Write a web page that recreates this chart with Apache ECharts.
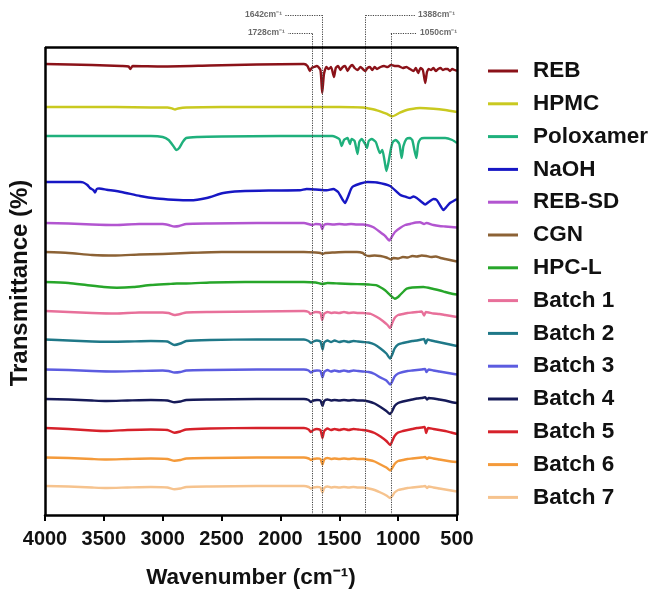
<!DOCTYPE html>
<html>
<head>
<meta charset="utf-8">
<script src="https://cdn.jsdelivr.net/npm/echarts@6/dist/echarts.min.js"></script>
<style>
html,body{margin:0;padding:0;background:#fff;}
#chart{width:653px;height:590px;}
</style>
</head>
<body>
<div id="chart"></div>
<script>
// ---- data: [wavenumber (cm-1), relative transmittance shift] ----
const seriesNames = ['REB','HPMC','Poloxamer','NaOH','REB-SD','CGN','HPC-L','Batch 1','Batch 2','Batch 3','Batch 4','Batch 5','Batch 6','Batch 7'];
const seriesOffsets = [451, 408, 379, 333, 292, 263, 233, 204, 175.5, 145.5, 116, 87, 57.5, 29];
const seriesColors = ['#8b1219','#c9c920','#1fb07c','#1717c4','#b255d0','#8c6235','#27a62a','#e8709a','#1f7888','#5c5ce0','#161a58','#d6212a','#f49a3a','#f6c38e'];

const REB = [[4000,0],[3600,-1],[3350,-2],[3290,-2.5],[3275,-5],[3255,-2],[3000,-2.5],[2600,-1.5],[2200,-0.5],[1800,0],[1770,-2],[1750,-7],[1735,-4],[1715,-3],[1690,-2],[1660,-6],[1645,-29],[1630,-10],[1610,-3],[1590,-5],[1570,-3],[1545,-13],[1530,-4],[1510,-2],[1490,-6],[1470,-3],[1450,-2],[1430,-7],[1410,-3],[1390,-1],[1370,-4],[1345,-6],[1320,-3],[1300,-5],[1280,-7],[1260,-4],[1240,-3],[1220,-6],[1200,-3],[1180,-5],[1150,-3],[1120,-2],[1090,-3],[1060,-1],[1030,-2],[1000,-2],[960,-4],[930,-3],[900,-5],[870,-7],[850,-4],[830,-9],[810,-4],[790,-6],[770,-19],[755,-8],[740,-5],[720,-6],[700,-4],[680,-7],[660,-5],[640,-4],[620,-6],[600,-5],[580,-5],[560,-7],[540,-5],[520,-6],[500,-7]];
const HPMC = [[4000,0],[3700,0],[3400,0],[3100,-0.5],[2960,-0.5],[2920,-1.5],[2895,-2.5],[2870,-1.5],[2800,-0.5],[2500,0],[2000,0],[1750,0],[1500,0],[1300,-0.5],[1250,-1.5],[1180,-3.3],[1100,-6.7],[1050,-9.3],[1020,-8],[985,-5.7],[940,-3.5],[900,-2.3],[815,-1],[700,-1.7],[600,-3],[500,-5]];
const Poloxamer = [[4000,0],[3500,0],[3100,0],[3000,-1],[2950,-4],[2910,-10],[2885,-14],[2860,-12],[2830,-6],[2800,-2],[2700,-1],[2500,-0.5],[2000,0],[1700,0],[1560,0],[1500,-3],[1480,-10],[1460,-4],[1430,-2],[1410,-8],[1395,-3],[1370,-5],[1345,-18],[1330,-6],[1310,-3],[1280,-8],[1265,-12],[1250,-5],[1225,-3],[1190,-6],[1155,-17],[1135,-14],[1115,-25],[1100,-35],[1085,-28],[1060,-12],[1045,-6],[1020,-4],[990,-8],[970,-22],[955,-10],[930,-3],[900,-2],[880,-4],[860,-15],[845,-22],[830,-8],[810,-3],[780,-2],[700,-2],[600,-2],[540,-4],[500,-7]];
const NaOH = [[4000,0],[3800,0],[3700,0],[3674,-0.5],[3640,-3],[3618,-6],[3590,-8],[3575,-10.5],[3560,-7],[3540,-6.5],[3476,-7.7],[3350,-10],[3193,-14],[3050,-16.5],[2910,-17.7],[2768,-18.3],[2626,-16],[2485,-11],[2343,-9.3],[2100,-8.5],[1834,-8.3],[1777,-7],[1700,-7.5],[1607,-8.3],[1551,-7],[1510,-10],[1470,-18],[1451,-21],[1430,-16],[1400,-7],[1381,-4.3],[1320,-1.5],[1260,0],[1180,-0.5],[1069,-4],[984,-12.7],[930,-15],[899,-16],[870,-14.5],[842,-16],[800,-20],[770,-22.5],[740,-20],[700,-17],[672,-18],[640,-24],[616,-28],[590,-25],[560,-21],[530,-19],[500,-17]];
const REB_SD = [[4000,0],[3800,-0.5],[3600,-1.5],[3400,-2],[3200,-1],[3000,-1],[2950,-2],[2900,-3.5],[2860,-3],[2800,-1],[2600,-0.5],[2200,0],[1800,0],[1750,-1.5],[1728,-2],[1700,-1],[1660,-1.5],[1645,-6],[1630,-2],[1600,-1],[1550,-1.5],[1500,-1],[1450,-1.5],[1400,-1],[1350,-1.5],[1300,-1.5],[1250,-2.5],[1210,-4.3],[1154,-9],[1110,-13],[1075,-17.5],[1050,-13],[1027,-9],[984,-5],[940,-2],[899,-1],[850,0.5],[814,0.7],[780,-1],[760,0],[700,-2],[650,-3],[600,-3.5],[550,-4],[500,-4.5]];
const CGN = [[4000,0],[3800,-1],[3600,-3],[3400,-3.5],[3200,-2.5],[3000,-2],[2900,-1.5],[2800,-1],[2500,0],[2000,0],[1800,0],[1700,-0.5],[1660,-1],[1642,-2],[1620,-1],[1550,-0.5],[1450,0],[1350,0],[1300,-1],[1280,-3],[1250,-4],[1200,-3.5],[1150,-4],[1100,-5.5],[1060,-7.5],[1040,-6],[1000,-6.5],[960,-5],[920,-5.5],[880,-4],[840,-4.5],[800,-3.5],[760,-4],[720,-5],[680,-4.5],[640,-6],[600,-7],[560,-8],[500,-9.5]];
const HPC_L = [[4000,0],[3800,-1],[3650,-3],[3500,-5],[3390,-5.7],[3250,-5],[3100,-3],[2950,-2],[2880,-1.5],[2800,-1.5],[2600,-0.5],[2300,0],[1800,0],[1700,-0.5],[1645,-2],[1600,-1],[1500,-1.5],[1400,-2],[1295,-2.3],[1250,-2.5],[1182,-3.3],[1111,-8.3],[1060,-14],[1027,-16.7],[1000,-15],[984,-13],[950,-9],[927,-6.7],[880,-5.5],[786,-5],[700,-7],[644,-8.5],[600,-10],[550,-11.5],[500,-12.5]];
const Batch1 = [[4000,0],[3800,-1],[3600,-2],[3400,-2.5],[3200,-1.5],[3000,-1.5],[2950,-2],[2900,-4],[2850,-3],[2800,-1.5],[2600,-1],[2200,-0.5],[1800,0],[1760,-1],[1745,-3],[1730,-2],[1700,-1],[1660,-2],[1645,-9],[1630,-3],[1600,-1],[1570,-2],[1540,-1.5],[1500,-2],[1460,-1],[1420,-2],[1380,-1.5],[1340,-2],[1300,-2],[1260,-2.5],[1230,-3],[1180,-6],[1130,-10],[1090,-14],[1068,-17],[1050,-12],[1030,-7],[1000,-4],[960,-3],[920,-2],[880,-1.5],[840,-1],[800,-0.5],[780,-4.5],[765,-1],[740,-1.5],[700,-2.5],[650,-3],[600,-4],[550,-5],[500,-6]];
const Batch2 = [[4000,0],[3800,-1],[3600,-2],[3476,-2.3],[3300,-2],[3100,-1.5],[2960,-2],[2900,-5.5],[2850,-4],[2800,-1.5],[2600,-0.5],[2200,0],[1800,0],[1760,-1.5],[1740,-3.5],[1720,-2],[1690,-1],[1660,-2],[1642,-10],[1628,-3],[1600,-1],[1570,-2.5],[1540,-1],[1500,-2.5],[1460,-1.5],[1420,-2.5],[1380,-1.5],[1340,-2],[1300,-2.5],[1250,-3],[1200,-5],[1150,-9],[1100,-14],[1068,-19],[1050,-15],[1030,-9],[1000,-5],[960,-3.5],[920,-2.5],[880,-1.5],[840,-1],[800,0],[780,0.5],[765,-4],[750,0],[720,-1],[680,-2],[620,-3.5],[560,-5],[500,-6.5]];
const Batch3 = [[4000,0],[3800,-0.5],[3600,-1.5],[3400,-2],[3200,-1.5],[3000,-1],[2950,-1.5],[2900,-3],[2850,-2.5],[2800,-1],[2600,-0.5],[2200,0],[1800,0],[1760,-1],[1742,-3],[1720,-1.5],[1690,-1],[1660,-1.5],[1643,-8],[1628,-2.5],[1600,-0.5],[1570,-2],[1540,-1],[1500,-2],[1460,-1],[1420,-2],[1380,-1],[1340,-1.5],[1300,-2],[1250,-2.5],[1200,-4.5],[1150,-8],[1100,-11],[1068,-15],[1050,-12],[1030,-7],[1000,-4],[960,-2.5],[920,-1.5],[880,-1],[840,-0.5],[800,0],[770,0.5],[760,-2.5],[740,0],[700,-1],[650,-2],[600,-3],[550,-4],[500,-5]];
const Batch4 = [[4000,0],[3800,-0.5],[3600,-1.5],[3476,-2],[3300,-1.5],[3100,-1],[2960,-1.5],[2900,-3.3],[2850,-2.5],[2800,-1],[2600,-0.5],[2200,0],[1800,0],[1760,-1],[1742,-3],[1720,-1.5],[1690,-1],[1660,-1.5],[1643,-7],[1628,-2],[1600,-0.5],[1570,-1.5],[1540,-1],[1500,-1.5],[1460,-1],[1420,-1.5],[1380,-1],[1340,-1.5],[1300,-1.5],[1250,-2.5],[1200,-4.5],[1150,-8],[1100,-12],[1068,-15],[1050,-12],[1030,-7],[1000,-4],[960,-2.5],[920,-1.5],[880,-0.5],[840,0.5],[800,1],[770,1.7],[755,-0.5],[740,1],[700,0.5],[650,-0.5],[600,-1.5],[550,-3],[500,-4]];
const Batch5 = [[4000,0],[3800,-1],[3600,-2.5],[3476,-3],[3300,-2],[3100,-1.5],[2960,-2],[2900,-4.7],[2850,-3.5],[2800,-1.5],[2600,-0.5],[2200,0],[1800,0],[1760,-1.5],[1742,-4],[1720,-2],[1690,-1],[1660,-2],[1643,-10],[1628,-3],[1600,-0.5],[1570,-2],[1540,-1],[1500,-2],[1460,-1],[1420,-2],[1380,-1],[1340,-1.5],[1300,-2],[1250,-3],[1200,-5],[1150,-8.5],[1100,-13],[1068,-17],[1050,-13],[1030,-8],[1000,-4.5],[960,-3],[920,-2],[880,-1],[840,0],[800,0.5],[775,1],[762,-5],[745,0],[700,-1],[650,-2],[600,-3],[550,-4.5],[500,-6]];
const Batch6 = [[4000,0],[3800,-0.5],[3600,-1.5],[3476,-2],[3300,-1.5],[3100,-1],[2960,-1.5],[2900,-3.3],[2850,-2.5],[2800,-1],[2600,-0.5],[2200,0],[1800,0],[1760,-1],[1742,-2.5],[1720,-1.5],[1690,-1],[1660,-1.5],[1643,-7],[1628,-2],[1600,-0.5],[1570,-1.5],[1540,-1],[1500,-1.5],[1460,-1],[1420,-1.5],[1380,-1],[1340,-1.5],[1300,-1.5],[1250,-2.5],[1200,-4],[1150,-7],[1100,-10],[1068,-13],[1050,-10.5],[1030,-6.5],[1000,-3.5],[960,-2.5],[920,-1.5],[880,-1],[840,-0.5],[800,0],[770,0.5],[755,-1.5],[740,0],[700,-1],[650,-2],[600,-3],[550,-4],[500,-4.5]];
const Batch7 = [[4000,0],[3800,-0.5],[3600,-1.5],[3476,-2],[3300,-1.5],[3100,-1],[2960,-1.5],[2900,-3.3],[2850,-2.5],[2800,-1],[2600,-0.5],[2200,0],[1800,0],[1760,-1],[1742,-2.5],[1720,-1.5],[1690,-1],[1660,-1.5],[1643,-6.5],[1628,-2],[1600,-0.5],[1570,-1.5],[1540,-1],[1500,-1.5],[1460,-1],[1420,-1.5],[1380,-1],[1340,-1.5],[1300,-1.5],[1250,-2.5],[1200,-4],[1150,-6.5],[1100,-9.5],[1068,-12],[1050,-10],[1030,-6.5],[1000,-4],[960,-3],[920,-2],[880,-1.5],[840,-1],[800,-0.5],[770,0],[755,-2],[740,-0.5],[700,-1.5],[650,-2.5],[600,-3.5],[550,-4.5],[500,-5.5]];
const spectra = [REB, HPMC, Poloxamer, NaOH, REB_SD, CGN, HPC_L, Batch1, Batch2, Batch3, Batch4, Batch5, Batch6, Batch7];

// reference peak annotations
const peakLines = [1728, 1642, 1276, 1062];
const peakLabels = ['1728cm\u207B\u00B9', '1642cm\u207B\u00B9', '1388cm\u207B\u00B9', '1050cm\u207B\u00B9'];

// ---- layout helpers (chart value space) ----
const FRAME_TOP = 468, Y_MAX = 502;
const leaderTop = [482, 500, 500, 482];
const leaderEnd = [1936, 1961, 857, 840];
const labelSide = ['left', 'left', 'right', 'right'];

const chart = echarts.init(document.getElementById('chart'), null, {renderer: 'canvas'});
const FONT = '"Liberation Sans", Arial, Helvetica, sans-serif';

const lineSeries = seriesNames.map((name, i) => ({
  name: name,
  type: 'line',
  data: spectra[i].map(p => [p[0], seriesOffsets[i] + p[1]]),
  showSymbol: false,
  symbol: 'none',
  smooth: 0.2,
  lineStyle: {width: 2.4, color: seriesColors[i], join: 'round'},
  itemStyle: {color: seriesColors[i]},
  z: 3
}));

const refLineData = [];
peakLines.forEach((w, i) => {
  refLineData.push([{coord: [w, 0]}, {coord: [w, leaderTop[i]]}]);
  refLineData.push([{coord: [w, leaderTop[i]]}, {coord: [leaderEnd[i], leaderTop[i]]}]);
});

const frameData = [
  [{coord: [4000, FRAME_TOP]}, {coord: [500, FRAME_TOP]}],
  [{coord: [4000, 0]}, {coord: [4000, FRAME_TOP]}],
  [{coord: [500, 0]}, {coord: [500, FRAME_TOP]}]
];

const option = {
  animation: false,
  backgroundColor: '#fff',
  grid: {left: 45, right: 196, top: 13, bottom: 75, containLabel: false, outerBoundsMode: 'none'},
  xAxis: {
    type: 'value', min: 500, max: 4000, interval: 500, inverse: true,
    name: 'Wavenumber (cm\u207B\u00B9)', nameLocation: 'middle', nameGap: 51,
    nameTextStyle: {fontFamily: FONT, fontWeight: 'bold', fontSize: 22.5, color: '#111'},
    axisLine: {show: true, lineStyle: {color: '#000', width: 2.5}},
    axisTick: {show: true, inside: false, length: 6, lineStyle: {color: '#000', width: 2}},
    axisLabel: {margin: 14, fontFamily: FONT, fontWeight: 'bold', fontSize: 20, color: '#111',
      formatter: v => String(v)},
    splitLine: {show: false}
  },
  yAxis: {
    type: 'value', min: 0, max: Y_MAX,
    axisLine: {show: false}, axisTick: {show: false}, axisLabel: {show: false}, splitLine: {show: false}
  },
  legend: {
    orient: 'vertical', left: 483, top: 54,
    data: seriesNames,
    icon: 'rect', itemWidth: 30, itemHeight: 3, itemGap: 8.8,
    textStyle: {fontFamily: FONT, fontWeight: 'bold', fontSize: 22.5, color: '#111', lineHeight: 24, padding: [0, 0, 0, 10]},
    selectedMode: false
  },
  graphic: [{
    type: 'text', x: 20, y: 283, rotation: Math.PI / 2,
    style: {text: 'Transmittance (%)', fill: '#111', font: 'bold 24px ' + FONT, textAlign: 'center', textVerticalAlign: 'middle'}
  }],
  series: lineSeries.concat([
    {
      name: 'refs', type: 'line', data: [], z: 4,
      markLine: {
        silent: true, symbol: ['none', 'none'], label: {show: false},
        lineStyle: {color: '#444', width: 1, type: [1.2, 1.2]},
        emphasis: {disabled: true},
        data: refLineData
      }
    },
    {
      name: 'frame', type: 'line', data: [], z: 5,
      markLine: {
        silent: true, symbol: ['none', 'none'], label: {show: false},
        lineStyle: {color: '#000', width: 2.5, type: 'solid'},
        emphasis: {disabled: true},
        data: frameData
      }
    },
    {
      name: 'peaklabels', type: 'scatter', symbolSize: 0.1, z: 6, silent: true,
      itemStyle: {color: 'rgba(0,0,0,0)'},
      data: peakLines.map((w, i) => ({
        value: [leaderEnd[i], leaderTop[i]],
        label: {
          show: true, position: labelSide[i], distance: 3,
          formatter: peakLabels[i],
          fontFamily: FONT, fontWeight: 'bold', fontSize: 8.5, color: '#444'
        }
      }))
    }
  ])
};
chart.setOption(option);
</script>
</body>
</html>
